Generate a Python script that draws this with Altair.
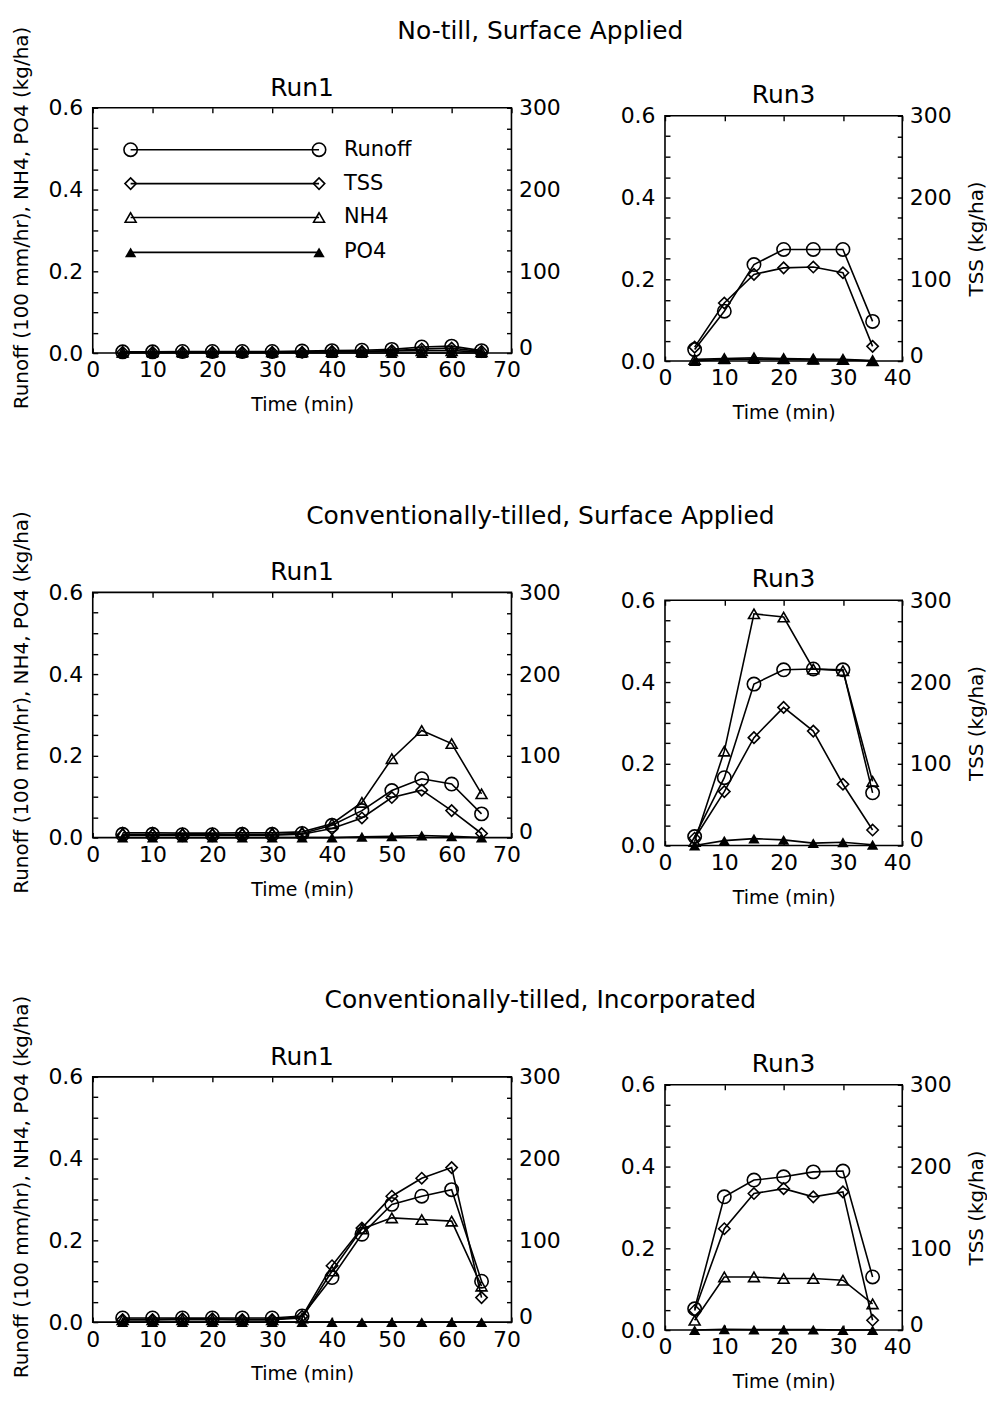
import altair as alt
import pandas as pd

FONT = "DejaVu Sans"

# ---------------- data ----------------
time_run1 = [5, 10, 15, 20, 25, 30, 35, 40, 45, 50, 55, 60, 65]
time_run3 = [5, 10, 15, 20, 25, 30, 35]

section_titles = [
    "No-till, Surface Applied",
    "Conventionally-tilled, Surface Applied",
    "Conventionally-tilled, Incorporated",
]
run_titles = ["Run1", "Run3"]
series_names = ["Runoff", "TSS", "NH4", "PO4"]

# No-till, surface applied
nt_run1_runoff = [0.003, 0.003, 0.004, 0.004, 0.004, 0.004, 0.005, 0.006, 0.007, 0.009, 0.015, 0.017, 0.006]
nt_run1_tss = [1, 1, 1, 1, 1, 1, 1, 2, 2, 3, 5, 6, 2]
nt_run1_nh4 = [0.002, 0.003, 0.003, 0.003, 0.003, 0.003, 0.003, 0.004, 0.004, 0.005, 0.006, 0.006, 0.003]
nt_run1_po4 = [0.0, 0.0, 0.0, 0.0, 0.0, 0.0, 0.0, 0.0, 0.0, 0.0, 0.0, 0.0, 0.0]

nt_run3_runoff = [0.028, 0.122, 0.236, 0.273, 0.273, 0.273, 0.097]
nt_run3_tss = [17, 71, 106, 114, 115, 108, 18]
nt_run3_nh4 = [0.004, 0.006, 0.008, 0.006, 0.005, 0.004, 0.001]
nt_run3_po4 = [0.0, 0.004, 0.005, 0.004, 0.003, 0.003, 0.0]

# Conventionally-tilled, surface applied
cs_run1_runoff = [0.008, 0.008, 0.007, 0.007, 0.008, 0.008, 0.010, 0.030, 0.066, 0.115, 0.144, 0.131, 0.058]
cs_run1_tss = [3, 3, 3, 3, 3, 3, 4, 11, 24, 49, 58, 33, 5]
cs_run1_nh4 = [0.012, 0.012, 0.011, 0.011, 0.012, 0.012, 0.014, 0.034, 0.086, 0.193, 0.262, 0.230, 0.107]
cs_run1_po4 = [0.0, 0.0, 0.0, 0.0, 0.0, 0.0, 0.0, 0.0, 0.002, 0.003, 0.005, 0.003, 0.0]

cs_run3_runoff = [0.022, 0.166, 0.395, 0.430, 0.432, 0.430, 0.129]
cs_run3_tss = [9, 66, 132, 169, 140, 75, 19]
cs_run3_nh4 = [0.010, 0.231, 0.567, 0.559, 0.432, 0.428, 0.157]
cs_run3_po4 = [0.0, 0.012, 0.017, 0.014, 0.006, 0.008, 0.002]

# Conventionally-tilled, incorporated
ci_run1_runoff = [0.010, 0.010, 0.010, 0.010, 0.010, 0.010, 0.015, 0.109, 0.215, 0.288, 0.308, 0.324, 0.100]
ci_run1_tss = [3, 3, 4, 4, 3, 3, 7, 69, 115, 154, 176, 189, 30]
ci_run1_nh4 = [0.006, 0.006, 0.006, 0.006, 0.006, 0.006, 0.010, 0.125, 0.228, 0.255, 0.251, 0.247, 0.088]
ci_run1_po4 = [0.0, 0.0, 0.0, 0.0, 0.0, 0.0, 0.0, 0.0, 0.0, 0.0, 0.0, 0.0, 0.0]

ci_run3_runoff = [0.052, 0.326, 0.367, 0.375, 0.387, 0.389, 0.130]
ci_run3_tss = [24, 124, 167, 173, 163, 169, 12]
ci_run3_nh4 = [0.024, 0.130, 0.130, 0.126, 0.126, 0.122, 0.064]
ci_run3_po4 = [0.0, 0.002, 0.001, 0.001, 0.001, 0.0, 0.0]

# ---------------- styling ----------------
W_LEFT, W_RIGHT, H = 420, 238, 246
LINE_W = 1.6
SHAPES = {
    "Runoff": dict(shape="circle", filled=False, size=180),
    "TSS": dict(shape="diamond", filled=False, size=130),
    "NH4": dict(shape="triangle-up", filled=False, size=120),
    "PO4": dict(shape="triangle-up", filled=True, size=130),
}
LEFT_TITLE = "Runoff (100 mm/hr), NH4, PO4 (kg/ha)"
RIGHT_TITLE = "TSS (kg/ha)"
TICK_FS = 22
AXTITLE_FS = 20
TITLE_FS = 25


def overlay(name):
    s = SHAPES[name]
    return alt.OverlayMarkDef(shape=s["shape"], filled=s["filled"], size=s["size"],
                              color="black", strokeWidth=LINE_W, opacity=1)


def text_layer(label, px, py, size, align="center"):
    return alt.Chart(pd.DataFrame({"label": [label]})).mark_text(
        align=align, baseline="middle", fontSize=size, font=FONT, color="black"
    ).encode(x=alt.value(px), y=alt.value(py), text="label:N")


def make_panel(times, runoff, tss, nh4, po4, xmax, width, run_title, run_title_y,
               is_left, section_title=None):
    df = pd.DataFrame({
        "t": times * 4,
        "series": (["Runoff"] * len(times) + ["TSS"] * len(times)
                   + ["NH4"] * len(times) + ["PO4"] * len(times)),
        "value": list(runoff) + list(tss) + list(nh4) + list(po4),
    })
    xvals = list(range(0, xmax + 1, 10))
    xscale = alt.Scale(domain=[0, xmax], nice=False)
    x_bottom = alt.X("t:Q", scale=xscale, axis=alt.Axis(
        values=xvals, title="Time (min)", offset=-5, tickSize=5, domain=False,
        grid=False, labelPadding=7, labelFontSize=TICK_FS, labelFlush=False,
        labelOverlap=False,
        labelOffset={"condition": {"test": f"datum.value === {xmax}", "value": -5}, "value": 0},
        titleFontSize=19, titlePadding=15, titleFontWeight="normal"))
    x_top = alt.X("t:Q", scale=xscale, axis=alt.Axis(
        orient="top", values=xvals, labels=False, title=None, offset=-5, tickSize=5,
        domain=False, grid=False))

    left_axis_kw = dict(
        values=[round(i * 0.05, 2) for i in range(13)],
        labelExpr="abs(datum.value*5 - round(datum.value*5)) < 0.001 ? format(datum.value, '.1f') : ''",
        offset=-5, tickSize=5, domain=False, grid=False, labelPadding=10,
        labelFontSize=TICK_FS, labelOverlap=False, labelFlush=False)
    if is_left:
        left_axis_kw.update(title=LEFT_TITLE, titleFontSize=AXTITLE_FS,
                            titleFontWeight="normal", titlePadding=16, titleY=110)
    else:
        left_axis_kw.update(title=None)
    y_left = alt.Y("value:Q", scale=alt.Scale(domain=[0, 0.6], nice=False),
                   axis=alt.Axis(**left_axis_kw))

    right_axis_kw = dict(
        orient="right", values=list(range(0, 301, 25)),
        labelExpr="datum.value % 100 === 0 ? datum.label : ''",
        offset=-5, tickSize=5, domain=False, grid=False, labelPadding=7,
        labelFontSize=TICK_FS, labelOverlap=False, labelFlush=False,
        labelOffset={"condition": {"test": "datum.value === 0", "value": -6}, "value": 0})
    if is_left:
        right_axis_kw.update(title=None)
    else:
        right_axis_kw.update(title=RIGHT_TITLE, titleFontSize=AXTITLE_FS,
                             titleFontWeight="normal", titlePadding=15,
                             titleAngle=270, titleBaseline="top")
    y_right = alt.Y("value:Q", scale=alt.Scale(domain=[0, 300], nice=False),
                    axis=alt.Axis(**right_axis_kw))

    left_layers = []
    for name in ["Runoff", "NH4", "PO4"]:
        left_layers.append(
            alt.Chart(df).transform_filter(alt.datum.series == name)
            .mark_line(color="black", strokeWidth=LINE_W, point=overlay(name))
            .encode(x=x_bottom, y=y_left)
        )

    extra = []
    if section_title is not None:
        extra.append(text_layer(section_title, 449, -77, TITLE_FS))
    extra.append(text_layer(run_title, width / 2, run_title_y, TITLE_FS))

    if is_left and section_title == section_titles[0]:
        leg_y = [42, 76, 110, 145]
        for name, yy in zip(series_names, leg_y):
            s = SHAPES[name]
            one = alt.Chart(pd.DataFrame({"label": [name]}))
            extra.append(one.mark_rule(color="black", strokeWidth=LINE_W).encode(
                x=alt.value(38), x2=alt.value(227), y=alt.value(yy)))
            for xx in (38, 227):
                extra.append(one.mark_point(
                    shape=s["shape"], filled=s["filled"], size=s["size"], color="black",
                    strokeWidth=LINE_W, opacity=1).encode(x=alt.value(xx), y=alt.value(yy)))
            extra.append(text_layer(name, 252, yy, 21, align="left"))

    right_layer = (
        alt.Chart(df).transform_filter(alt.datum.series == "TSS")
        .mark_line(color="black", strokeWidth=LINE_W, point=overlay("TSS"))
        .encode(x=x_top, y=y_right)
    )

    panel = (
        alt.layer(alt.layer(*left_layers, *extra), right_layer)
        .resolve_scale(y="independent")
        .resolve_axis(x="independent", y="independent")
        .properties(width=width, height=H)
    )
    return panel


def spacer(width, height):
    return alt.Chart(pd.DataFrame({"a": [0]})).mark_point(opacity=0).encode(
        x=alt.value(0), y=alt.value(0)
    ).properties(width=width, height=height, view=alt.ViewBackground(strokeOpacity=0))


panels = [
    (nt_run1_runoff, nt_run1_tss, nt_run1_nh4, nt_run1_po4,
     nt_run3_runoff, nt_run3_tss, nt_run3_nh4, nt_run3_po4),
    (cs_run1_runoff, cs_run1_tss, cs_run1_nh4, cs_run1_po4,
     cs_run3_runoff, cs_run3_tss, cs_run3_nh4, cs_run3_po4),
    (ci_run1_runoff, ci_run1_tss, ci_run1_nh4, ci_run1_po4,
     ci_run3_runoff, ci_run3_tss, ci_run3_nh4, ci_run3_po4),
]

rows = []
for sec, p in zip(section_titles, panels):
    left = make_panel(time_run1, p[0], p[1], p[2], p[3], 70, W_LEFT, run_titles[0], -20,
                      True, section_title=sec)
    right = make_panel(time_run3, p[4], p[5], p[6], p[7], 40, W_RIGHT, run_titles[1], -21,
                       False)
    right_cell = alt.vconcat(spacer(W_RIGHT, 8), right, spacing=0, bounds="flush")
    rows.append(alt.hconcat(left, right_cell, spacing=154, bounds="flush"))

chart = (
    alt.vconcat(*rows, spacing=486, bounds="flush")
    .properties(background="white",
                padding={"left": 3, "top": 8, "right": 0, "bottom": 0})
    .configure_view(stroke="black", strokeWidth=1.6)
    .configure_axis(labelFont=FONT, titleFont=FONT, labelColor="black", titleColor="black",
                    tickColor="black", tickWidth=1.4)
)

chart.save("out.html", embed_options={"renderer": "svg", "actions": False})
